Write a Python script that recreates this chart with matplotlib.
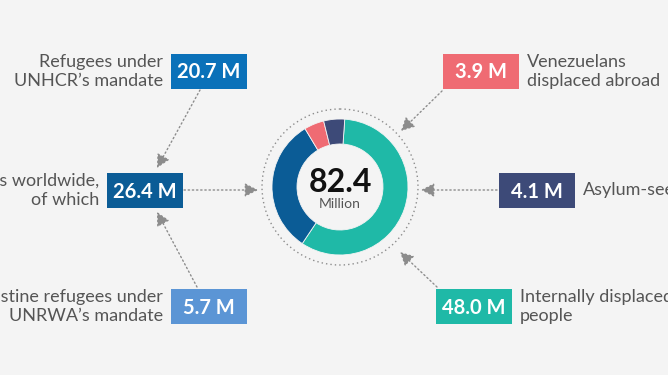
"""Donut of forcibly displaced people (82.4 M) with call-out boxes."""
import matplotlib
matplotlib.use("Agg")
import matplotlib.pyplot as plt
from matplotlib.patches import Circle, FancyArrowPatch, Rectangle

plt.rcParams["font.family"] = ["Lato", "DejaVu Sans"]

BG, INK, MUTED, DOT = "#f4f4f4", "#111111", "#555555", "#8c8c8c"
TEAL, DBLUE, RED, NAVY = "#1fb9a7", "#0b5c96", "#ef6b73", "#3d4a78"
BLUE, LBLUE = "#0a71b9", "#5b95d5"

# ring segments, clockwise from just right of 12 o'clock
ring_names = ["Internally displaced people", "Refugees worldwide", "Venezuelans displaced abroad", "Asylum-seekers"]
ring_values = [48.0, 26.4, 3.9, 4.1]
ring_colors = [TEAL, DBLUE, RED, NAVY]
total = 82.4

# call-out boxes
box_values = [20.7, 26.4, 5.7, 3.9, 4.1, 48.0]
box_labels = ["Refugees under\nUNHCR\u2019s mandate",
              "Refugees worldwide,\nof which",
              "Palestine refugees under\nUNRWA\u2019s mandate",
              "Venezuelans\ndisplaced abroad",
              "Asylum-seekers",
              "Internally displaced\npeople"]
box_colors = [BLUE, DBLUE, LBLUE, RED, NAVY, TEAL]
# box top-left corner (px) and which side its label sits on
box_xy = [(171, 54), (107, 173), (171, 289), (443, 54), (499, 173), (436, 289)]
label_side = ["left", "left", "left", "right", "right", "right"]
BW, BH = 76, 35

# dotted arrows (start -> end, px)
arrows = [((200, 90), (157, 168)), ((197, 287), (157, 212)), ((184, 190), (258, 190)),
          ((442, 91), (401, 131)), ((497, 190), (421, 190)), ((437, 287), (400, 252))]

CX, CY = 340, 187

fig = plt.figure(figsize=(6.68, 3.75), dpi=100, facecolor=BG)
ax = fig.add_axes([0, 0, 1, 1])
ax.set_facecolor(BG)

ax.pie(ring_values, colors=ring_colors, center=(CX, CY), radius=68,
       startangle=-86, counterclock=True,
       wedgeprops=dict(width=25, linewidth=0.6, edgecolor=BG))
ax.add_patch(Circle((CX, CY), 78, fill=False, ec=DOT, lw=1, ls=(0, (1, 2.2))))
ax.text(CX, CY - 5, f"{total:.1f}", ha="center", va="center", fontsize=23,
        fontweight="bold", color=INK)
ax.text(CX, CY + 17, "Million", ha="center", va="center", fontsize=10, color=MUTED)

for (x, y), v, lab, c, side in zip(box_xy, box_values, box_labels, box_colors, label_side):
    ax.add_patch(Rectangle((x, y), BW, BH, fc=c, ec="none"))
    ax.text(x + BW / 2, y + BH / 2 + 1, f"{v:.1f} M", ha="center", va="center",
            fontsize=14.5, fontweight="bold", color="white")
    if side == "left":
        ax.text(x - 8, y + BH / 2, lab, ha="right", va="center", fontsize=13,
                color=MUTED, linespacing=1.2)
    else:
        ax.text(x + BW + 8, y + BH / 2, lab, ha="left", va="center", fontsize=13,
                color=MUTED, linespacing=1.2)

for p0, p1 in arrows:
    ax.add_patch(FancyArrowPatch(p0, p1, arrowstyle="-|>,head_length=5,head_width=2.6",
                                 color=DOT, lw=1, ls=(0, (1, 2)), shrinkA=0, shrinkB=0,
                                 mutation_scale=1.6))

ax.set_xlim(0, 668)
ax.set_ylim(375, 0)
ax.set_aspect("auto")
ax.axis("off")
fig.savefig("out.png", dpi=100, facecolor=BG)
